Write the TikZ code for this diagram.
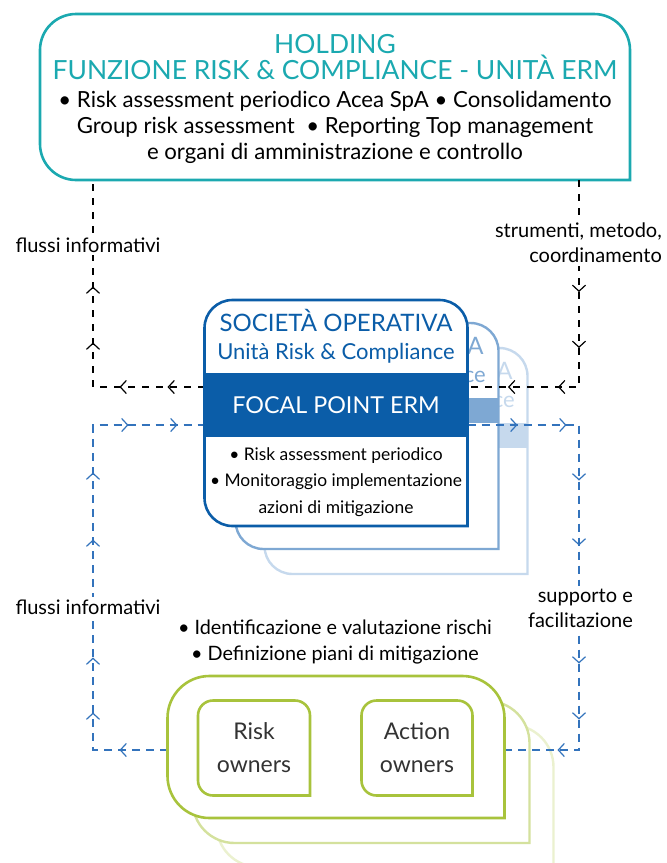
\documentclass[tikz,border=0pt]{standalone}
\usepackage{fontspec}
\setmainfont{Lato}
\usetikzlibrary{arrows.meta,calc,decorations.markings}

\definecolor{holdteal}{HTML}{1BA9B0}
\definecolor{socblue}{HTML}{0B5DA8}
\definecolor{socmid}{HTML}{7EA8D3}
\definecolor{socpale}{HTML}{C6D9ED}
\definecolor{dashblue}{HTML}{3373BC}
\definecolor{ownergreen}{HTML}{A8C33C}
\definecolor{ownermid}{HTML}{D4E19D}
\definecolor{ownerpale}{HTML}{EBF1CF}

% outline of a box: rounded corners, square at the bottom right
\newcommand{\tabbox}[3]{%
  \draw[#3] (#1.south) -- (#1.south east) -- (#1.east) [rounded corners=#2]
    -- (#1.north east) -- (#1.north west) -- (#1.south west) -- cycle;
}

\begin{document}
\begin{tikzpicture}[x=1pt, y=-1pt,
    frame/.style={inner sep=0pt, outer sep=0pt},
    infoline/.style={draw=black, line width=1.2pt, dash pattern=on 7pt off 7pt},
    supportline/.style={draw=dashblue, line width=1.2pt, dash pattern=on 8pt off 6pt},
    tipat/.style={postaction={decorate, decoration={markings,
        mark=at position #1 with {\arrow{Straight Barb[length=6pt,width=13pt]}}}}},
    flowlabel/.style={fill=white, inner sep=3pt, font=\fontsize{20}{25}\selectfont, align=center}
  ]
    \useasboundingbox (0,0) rectangle (667,863);
    \clip (0,0) rectangle (667,863);

    % holding
    \node[frame, minimum width=590pt, minimum height=166pt] (holding) at (335,97) {};
    \tabbox{holding}{36pt}{draw=holdteal, line width=2.6pt}
    \node[text=holdteal, align=center, font=\fontsize{26.4}{26}\selectfont] (holdtitle) at (335,57)
        {HOLDING\\FUNZIONE RISK \& COMPLIANCE - UNITÀ ERM};
    \node[align=center, font=\fontsize{22.2}{26}\selectfont] (holdtasks) at (335,127)
        {• Risk assessment periodico Acea SpA • Consolidamento\\Group risk assessment\ \ • Reporting Top management\\e organi di amministrazione e controllo};

    % societa operative (back copies)
    \foreach \dx/\dy/\tone [count=\i] in {60/48/socpale, 31/23/socmid}{
        \node[frame, minimum width=263pt, minimum height=226pt] (socback\i) at (336+\dx,413+\dy) {};
        \tabbox{socback\i}{28pt}{draw=\tone, fill=white, line width=2.4pt}
        \fill[\tone] ($(socback\i.north west)+(0,75)$) rectangle ($(socback\i.north east)+(0,100)$);
        \node[text=\tone, align=center, font=\fontsize{22}{28}\selectfont] (socbackname\i) at ($(socback\i.north)+(0,36)$)
            {{\fontsize{24}{28}\selectfont SOCIETÀ OPERATIVA}\\Unità Risk \& Compliance};
    }
    \node[frame, minimum width=263pt, minimum height=226pt] (soc) at (336,413) {};

    % owners (back copies)
    \foreach \dx/\tone in {49/ownerpale, 25/ownermid}{
        \node[frame, minimum width=337pt, minimum height=142pt] (ownback\dx) at (336+\dx,747+\dx) {};
        \tabbox{ownback\dx}{42pt}{draw=\tone, fill=white, line width=2.4pt}
    }
    \node[frame, minimum width=337pt, minimum height=142pt] (owners) at (336,747) {};

    % flows
    \coordinate (upL) at (93,387);
    \coordinate (upR) at (579,387);
    \coordinate (dnL) at (93,425);
    \coordinate (dnR) at (579,425);
    \coordinate (botL) at (93,750);
    \coordinate (botR) at (579,750);

    \draw[infoline, tipat=37pt, tipat=85pt, tipat=156pt, tipat=212pt]
        (soc.west |- upL) -- (upL) -- (holding.south -| upL);
    \draw[infoline, tipat=112pt, tipat=168pt, tipat=228pt, tipat=278pt]
        (holding.south -| upR) -- (upR) -- (soc.east |- upR);
    \draw[supportline, tipat=48pt, tipat=112pt, tipat=167pt, tipat=285pt, tipat=352pt, tipat=435pt, tipat=484pt]
        (owners.west |- botL) -- (botL) -- (dnL) -- (soc.west |- dnL);
    \draw[supportline, tipat=50pt, tipat=99pt, tipat=167pt, tipat=232pt, tipat=350pt, tipat=406pt, tipat=458pt]
        (soc.east |- dnR) -- (dnR) -- (botR) -- (owners.east |- botR);

    \node[flowlabel] (infoup) at (88,245) {flussi informativi};
    \node[flowlabel, align=right, anchor=east] (tools) at (665,243) {strumenti, metodo,\\coordinamento};
    \node[flowlabel] (infodown) at (88,607) {flussi informativi};
    \node[flowlabel, align=right, anchor=east] (help) at (636,608) {supporto e\\facilitazione};

    % societa operativa
    \tabbox{soc}{28pt}{fill=white}
    \fill[socblue] ($(soc.north west)+(0,73)$) rectangle ($(soc.north east)+(0,137)$);
    \tabbox{soc}{28pt}{draw=socblue, line width=2.6pt}
    \node[text=socblue, align=center, font=\fontsize{22}{28}\selectfont] (socname) at ($(soc.north)+(0,36)$)
        {{\fontsize{24}{28}\selectfont SOCIETÀ OPERATIVA}\\Unità Risk \& Compliance};
    \node[text=white, font=\fontsize{23.3}{26}\selectfont] (focal) at ($(soc.north)+(0,105)$) {FOCAL POINT ERM};
    \node[align=center, font=\fontsize{17.4}{26.5}\selectfont] (soctasks) at ($(soc.north)+(0,182)$)
        {• Risk assessment periodico\\• Monitoraggio implementazione\\azioni di mitigazione};

    \node[align=center, font=\fontsize{19.8}{26}\selectfont] (ownertasks) at (335,642)
        {• Identificazione e valutazione rischi\\• Definizione piani di mitigazione};

    % owners
    \tabbox{owners}{42pt}{draw=ownergreen, fill=white, line width=2.6pt}
    \node[frame, minimum width=112pt, minimum height=95pt] (riskown) at (254,748) {};
    \node[frame, minimum width=111pt, minimum height=95pt] (actown) at (417,748) {};
    \tabbox{riskown}{15pt}{draw=ownergreen, line width=2.6pt}
    \tabbox{actown}{15pt}{draw=ownergreen, line width=2.6pt}
    \node[align=center, text=black!80, font=\fontsize{23}{33}\selectfont] (risktext) at (riskown) {Risk\\owners};
    \node[align=center, text=black!80, font=\fontsize{23}{33}\selectfont] (acttext) at (actown) {Action\\owners};
\end{tikzpicture}
\end{document}
